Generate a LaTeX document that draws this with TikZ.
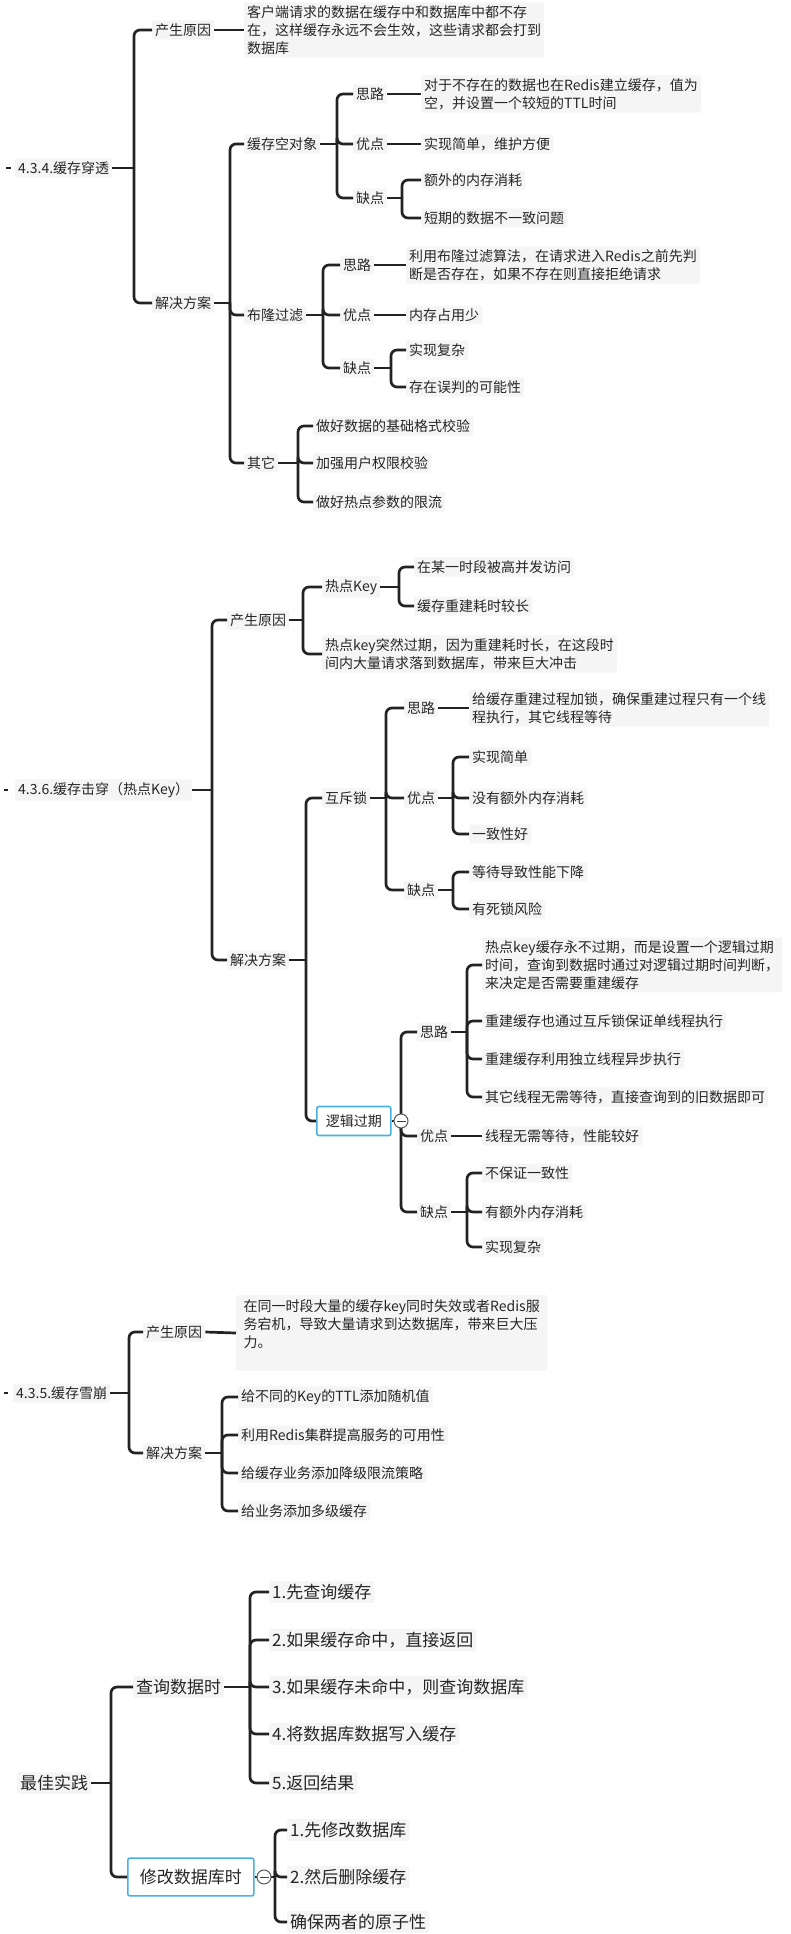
\documentclass[tikz,border=0pt]{standalone}
\usepackage{fontspec}
\setmainfont{Noto Sans CJK SC}
\usetikzlibrary{calc}
\definecolor{linkgray}{RGB}{35,35,35}
\definecolor{textgray}{RGB}{38,38,38}
\definecolor{selblue}{RGB}{70,178,226}
\definecolor{boxgray}{RGB}{245,245,245}
\tikzset{
  item/.style={anchor=west,fill=boxgray,rounded corners=2pt,inner sep=3pt,
    align=left,text=textgray,font=\fontsize{14}{18}\selectfont},
  bigitem/.style={item,font=\fontsize{17}{21}\selectfont},
  link/.style={draw=linkgray,line width=2.7pt,rounded corners=6pt},
  stub/.style={draw=linkgray,line width=2.2pt},
  sel/.style={draw=selblue,line width=1.6pt,fill=white,rounded corners=4pt,
    inner xsep=9pt,inner ysep=8pt},
  fold/.style={circle,draw=black!65,fill=white,line width=1pt,minimum size=14pt,
    inner sep=0pt,path picture={\draw[black!75,line width=1pt]
      ([xshift=-4.5pt]path picture bounding box.center) --
      ([xshift=4.5pt]path picture bounding box.center);}}
}
\begin{document}
\begin{tikzpicture}[x=1pt,y=-1pt]
\useasboundingbox[fill=white] (0,0) rectangle (790,1934);

% ---------- 4.3.4 cache penetration ----------
\node[item] (root1) at (15,168) {4.3.4.缓存穿透};
\coordinate (s1) at (6,168);
\draw[stub] (s1) -- ++(5,0);
\coordinate (b1) at (134,168);
\node[item] (pc1) at (152,30) {产生原因};
\node[item] (jj1) at (152,303) {解决方案};
\draw[link] (root1.east) -- (b1);
\foreach \c in {pc1,jj1} \draw[link] (b1) |- (\c.west);
\node[item] (pc1t) at (244,30) {客户端请求的数据在缓存中和数据库中都不存\\在，这样缓存永远不会生效，这些请求都会打到\\数据库};
\draw[link] (pc1.east) -- (pc1t.west);

\coordinate (bj1) at (230,303);
\node[item] (kd) at (244,144) {缓存空对象};
\node[item] (bl) at (244,315) {布隆过滤};
\node[item] (qt) at (244,463) {其它};
\draw[link] (jj1.east) -- (bj1);
\foreach \c in {kd,bl,qt} \draw[link] (bj1) |- (\c.west);

% empty-object cache
\coordinate (bkd) at (337,144);
\node[item] (kd1) at (353,94) {思路};
\node[item] (kd2) at (353,144) {优点};
\node[item] (kd3) at (353,198) {缺点};
\draw[link] (kd.east) -- (bkd);
\foreach \c in {kd1,kd2,kd3} \draw[link] (bkd) |- (\c.west);
\node[item] (kd1t) at (421,94) {对于不存在的数据也在Redis建立缓存，值为\\空，并设置一个较短的TTL时间};
\node[item] (kd2t) at (421,144) {实现简单，维护方便};
\draw[link] (kd1.east) -- (kd1t.west);
\draw[link] (kd2.east) -- (kd2t.west);
\coordinate (bkd3) at (402,198);
\node[item] (kd3a) at (421,180) {额外的内存消耗};
\node[item] (kd3b) at (421,218) {短期的数据不一致问题};
\draw[link] (kd3.east) -- (bkd3);
\foreach \c in {kd3a,kd3b} \draw[link] (bkd3) |- (\c.west);

% bloom filter
\coordinate (bbl) at (323,315);
\node[item] (bl1) at (340,265) {思路};
\node[item] (bl2) at (340,315) {优点};
\node[item] (bl3) at (340,368) {缺点};
\draw[link] (bl.east) -- (bbl);
\foreach \c in {bl1,bl2,bl3} \draw[link] (bbl) |- (\c.west);
\node[item] (bl1t) at (406,265) {利用布隆过滤算法，在请求进入Redis之前先判\\断是否存在，如果不存在则直接拒绝请求};
\node[item] (bl2t) at (406,315) {内存占用少};
\draw[link] (bl1.east) -- (bl1t.west);
\draw[link] (bl2.east) -- (bl2t.west);
\coordinate (bbl3) at (391,368);
\node[item] (bl3a) at (406,350) {实现复杂};
\node[item] (bl3b) at (406,387) {存在误判的可能性};
\draw[link] (bl3.east) -- (bbl3);
\foreach \c in {bl3a,bl3b} \draw[link] (bbl3) |- (\c.west);

% others
\coordinate (bqt) at (298,463);
\draw[link] (qt.east) -- (bqt);
\foreach \t/\y [count=\i] in {做好数据的基础格式校验/426,加强用户权限校验/463,做好热点参数的限流/502}{
  \node[item] (qt\i) at (313,\y) {\t};
  \draw[link] (bqt) |- (qt\i.west);
}

% ---------- 4.3.6 cache breakdown ----------
\node[item] (root2) at (15,790) {4.3.6.缓存击穿（热点Key）};
\coordinate (s2) at (4,790);
\draw[stub] (s2) -- ++(4,0);
\coordinate (b2) at (212,790);
\node[item] (pc2) at (227,620) {产生原因};
\node[item] (jj2) at (227,960) {解决方案};
\draw[link] (root2.east) -- (b2);
\foreach \c in {pc2,jj2} \draw[link] (b2) |- (\c.west);

\coordinate (bpc2) at (303,620);
\node[item] (rd) at (322,587) {热点Key};
\node[item] (gq) at (322,654) {热点key突然过期，因为重建耗时长，在这段时\\间内大量请求落到数据库，带来巨大冲击};
\draw[link] (pc2.east) -- (bpc2);
\foreach \c in {rd,gq} \draw[link] (bpc2) |- (\c.west);
\coordinate (brd) at (399,587);
\node[item] (rd1) at (414,567) {在某一时段被高并发访问};
\node[item] (rd2) at (414,606) {缓存重建耗时较长};
\draw[link] (rd.east) -- (brd);
\foreach \c in {rd1,rd2} \draw[link] (brd) |- (\c.west);

\coordinate (bj2) at (306,960);
\node[item] (hc) at (322,798) {互斥锁};
\node[sel,item,inner xsep=9pt,inner ysep=8pt,fill=white] (lj) at (316,1121) {逻辑过期};
\draw[link] (jj2.east) -- (bj2);
\foreach \c in {hc,lj} \draw[link] (bj2) |- (\c.west);

% mutex
\coordinate (bhc) at (386,798);
\node[item] (hc1) at (404,708) {思路};
\node[item] (hc2) at (404,798) {优点};
\node[item] (hc3) at (404,890) {缺点};
\draw[link] (hc.east) -- (bhc);
\foreach \c in {hc1,hc2,hc3} \draw[link] (bhc) |- (\c.west);
\node[item] (hc1t) at (469,708) {给缓存重建过程加锁，确保重建过程只有一个线\\程执行，其它线程等待};
\draw[link] (hc1.east) -- (hc1t.west);
\coordinate (bhc2) at (453,798);
\draw[link] (hc2.east) -- (bhc2);
\foreach \t/\y [count=\i] in {实现简单/757,没有额外内存消耗/798,一致性好/834}{
  \node[item] (hc2\i) at (469,\y) {\t};
  \draw[link] (bhc2) |- (hc2\i.west);
}
\coordinate (bhc3) at (453,890);
\draw[link] (hc3.east) -- (bhc3);
\foreach \t/\y [count=\i] in {等待导致性能下降/872,有死锁风险/909}{
  \node[item] (hc3\i) at (469,\y) {\t};
  \draw[link] (bhc3) |- (hc3\i.west);
}

% logical expiry
\coordinate (blj) at (401,1121);
\node[item] (lj1) at (417,1032) {思路};
\node[item] (lj2) at (417,1136) {优点};
\node[item] (lj3) at (417,1212) {缺点};
\draw[link] (lj.east) -- (blj);
\foreach \c in {lj1,lj2,lj3} \draw[link] (blj) |- (\c.west);
\node[fold] (ljf) at (blj) {};
\coordinate (blj1) at (467,1032);
\draw[link] (lj1.east) -- (blj1);
\node[item] (lj1a) at (482,965) {热点key缓存永不过期，而是设置一个逻辑过期\\时间，查询到数据时通过对逻辑过期时间判断，\\来决定是否需要重建缓存};
\node[item] (lj1b) at (482,1021) {重建缓存也通过互斥锁保证单线程执行};
\node[item] (lj1c) at (482,1059) {重建缓存利用独立线程异步执行};
\node[item] (lj1d) at (482,1097) {其它线程无需等待，直接查询到的旧数据即可};
\foreach \c in {lj1a,lj1b,lj1c,lj1d} \draw[link] (blj1) |- (\c.west);
\node[item] (lj2t) at (482,1136) {线程无需等待，性能较好};
\draw[link] (lj2.east) -- (lj2t.west);
\coordinate (blj3) at (467,1212);
\draw[link] (lj3.east) -- (blj3);
\foreach \t/\y [count=\i] in {不保证一致性/1173,有额外内存消耗/1212,实现复杂/1247}{
  \node[item] (lj3\i) at (482,\y) {\t};
  \draw[link] (blj3) |- (lj3\i.west);
}

% ---------- 4.3.5 cache avalanche ----------
\node[item] (root3) at (13,1393) {4.3.5.缓存雪崩};
\coordinate (s3) at (4,1393);
\draw[stub] (s3) -- ++(4,0);
\coordinate (b3) at (129,1393);
\node[item] (pc3) at (143,1332) {产生原因};
\node[item] (jj3) at (143,1453) {解决方案};
\draw[link] (root3.east) -- (b3);
\foreach \c in {pc3,jj3} \draw[link] (b3) |- (\c.west);
\node[item,minimum width=311pt,inner sep=5pt] (pc3t) at (236,1333) {在同一时段大量的缓存key同时失效或者Redis服\\务宕机，导致大量请求到达数据库，带来巨大压\\力。\\~};
\draw[link] (pc3.east) -- (pc3t.west);
\coordinate (bj3) at (222,1453);
\draw[link] (jj3.east) -- (bj3);
\foreach \t/\y [count=\i] in {给不同的Key的TTL添加随机值/1397,利用Redis集群提高服务的可用性/1435,给缓存业务添加降级限流策略/1473,给业务添加多级缓存/1511}{
  \node[item] (jj3\i) at (238,\y) {\t};
  \draw[link] (bj3) |- (jj3\i.west);
}

% ---------- best practice ----------
\node[bigitem] (root4) at (17,1783) {最佳实践};
\coordinate (b4) at (111,1783);
\node[bigitem] (cx) at (133,1687) {查询数据时};
\node[sel,bigitem,inner xsep=12pt,inner ysep=11pt,fill=white] (xg) at (127,1877) {修改数据库时};
\draw[link] (root4.east) -- (b4);
\foreach \c in {cx,xg} \draw[link] (b4) |- (\c.west);
\coordinate (bcx) at (250,1687);
\draw[link] (cx.east) -- (bcx);
\foreach \t/\y [count=\i] in {1.先查询缓存/1592,2.如果缓存命中，直接返回/1640,3.如果缓存未命中，则查询数据库/1687,4.将数据库数据写入缓存/1734,5.返回结果/1783}{
  \node[bigitem] (cx\i) at (269,\y) {\t};
  \draw[link] (bcx) |- (cx\i.west);
}
\coordinate (bxg) at (275,1877);
\draw[link] (xg.east) -- (bxg);
\foreach \t/\y [count=\i] in {1.先修改数据库/1830,2.然后删除缓存/1877,确保两者的原子性/1922}{
  \node[bigitem] (xg\i) at (287,\y) {\t};
  \draw[link] (bxg) |- (xg\i.west);
}
\node[fold] (xgf) at (264,1877) {};
\end{tikzpicture}
\end{document}
